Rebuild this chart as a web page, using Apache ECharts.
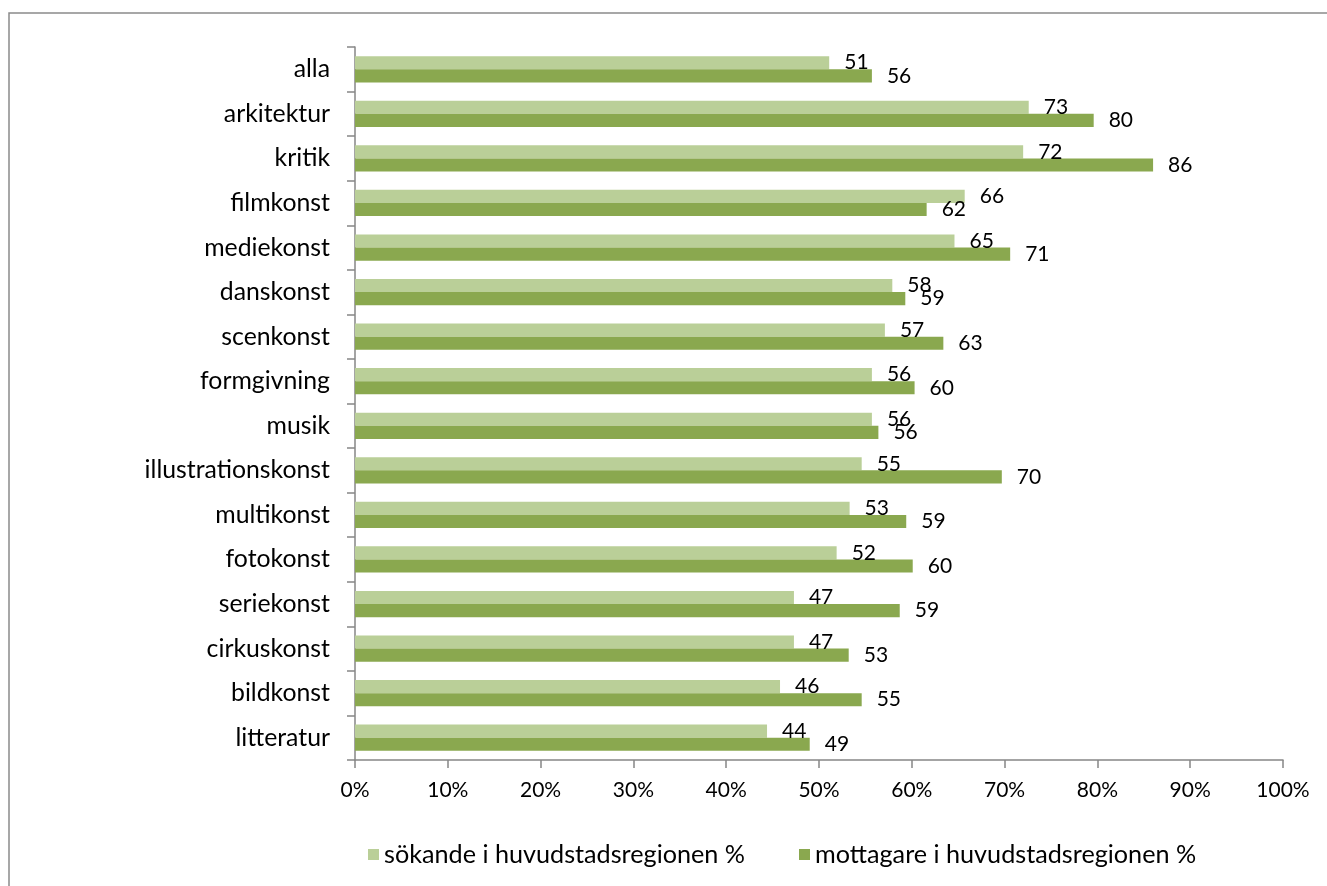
<!DOCTYPE html>
<html>
<head>
<meta charset="utf-8">
<script src="https://cdn.jsdelivr.net/npm/echarts@6/dist/echarts.min.js"></script>
<style>
html,body{margin:0;padding:0;background:#fff;}
#chart{width:1327px;height:886px;}
</style>
</head>
<body>
<div id="chart"></div>
<script>
const categories = ['alla','arkitektur','kritik','filmkonst','mediekonst','danskonst','scenkonst','formgivning','musik','illustrationskonst','multikonst','fotokonst','seriekonst','cirkuskonst','bildkonst','litteratur'];
const sokande = [51.1,72.6,72.0,65.7,64.6,57.9,57.1,55.7,55.7,54.6,53.3,51.9,47.3,47.3,45.8,44.4];
const mottagare = [55.7,79.6,86.0,61.6,70.6,59.3,63.4,60.3,56.4,69.7,59.4,60.1,58.7,53.2,54.6,49.0];
const seriesNames = ['sökande i huvudstadsregionen %','mottagare i huvudstadsregionen %'];

const FONT = 'Lato';
const chart = echarts.init(document.getElementById('chart'), null, {renderer:'canvas'});
const labelStyle = {
  show: true, position: 'right', distance: 15,
  color: '#000', fontFamily: FONT, fontSize: 21,
  formatter: p => Math.round(p.value)
};
chart.setOption({
  backgroundColor: '#fff',
  animation: false,
  graphic: [{
    type: 'rect', shape: {x: 9, y: 13, width: 1400, height: 1000},
    style: {fill: 'none', stroke: '#8a8a8a', lineWidth: 1.5}, silent: true
  }],
  grid: {left: 355, right: 44, top: 47, bottom: 126, containLabel: false},
  legend: {
    bottom: 14, left: 363, itemGap: 54, itemWidth: 11, itemHeight: 11,
    icon: 'rect',
    textStyle: {fontFamily: FONT, fontSize: 25.2, color: '#000'},
    data: seriesNames
  },
  xAxis: {
    type: 'value', min: 0, max: 100, interval: 10,
    axisLine: {show: true, lineStyle: {color: '#868686', width: 1.5}},
    axisTick: {show: true, length: 8, lineStyle: {color: '#868686', width: 1.5}},
    splitLine: {show: false},
    axisLabel: {formatter: '{value}%', fontFamily: FONT, fontSize: 21, color: '#000', margin: 20}
  },
  yAxis: {
    type: 'category', data: categories, inverse: true,
    axisLine: {show: true, lineStyle: {color: '#868686', width: 1.5}},
    axisTick: {show: true, length: 8, lineStyle: {color: '#868686', width: 1.5}},
    axisLabel: {fontFamily: FONT, fontSize: 24.8, color: '#000', margin: 25}
  },
  series: [
    {name: seriesNames[0], type: 'bar', data: sokande, barCategoryGap: '41%', barGap: '0%',
     itemStyle: {color: '#BACF98'}, label: labelStyle},
    {name: seriesNames[1], type: 'bar', data: mottagare,
     itemStyle: {color: '#8AA84F'}, label: labelStyle}
  ]
});
</script>
</body>
</html>
